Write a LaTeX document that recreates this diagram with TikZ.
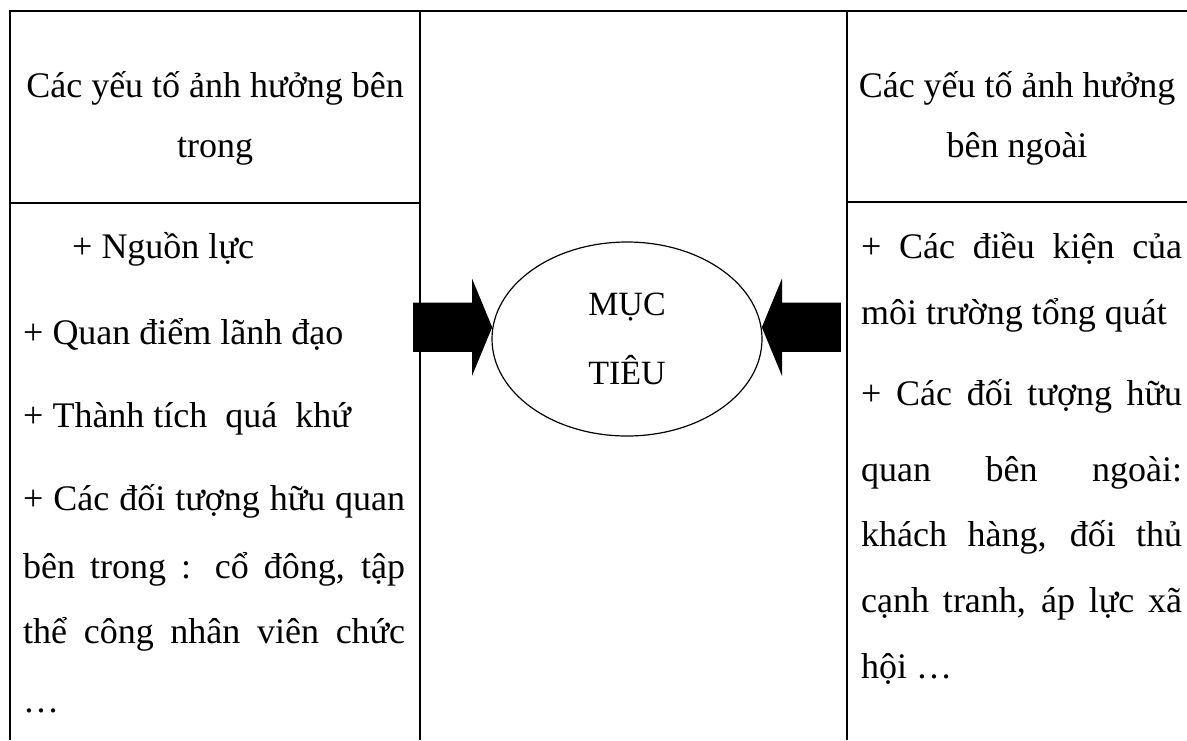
\documentclass[tikz,border=0pt]{standalone}
\usepackage{fontspec}
\setmainfont{Liberation Serif}
\usepackage{tikz}
\usetikzlibrary{shapes.geometric,shapes.arrows}
\newcommand{\headtext}[3] {\node at (#1) (#2) [anchor=base, inner sep=0pt] {#3};}
\newcommand{\celltext}[3] {\node at (#1) (#2) [anchor=base west, inner sep=0pt] {#3};}
\newcommand{\celljust}[4] {\node at (#1) (#2) [anchor=base west, inner sep=0pt] {\makebox[#3][s]{#4}};}
\newcommand{\pusharrow}[3] {\node at (#1) (#2) [single arrow, fill=black, inner xsep=0pt, inner ysep=24.5pt, minimum height=79pt, single arrow head extend=24pt, single arrow tip angle=135, shape border rotate=#3, anchor=tip] {};}

\begin{document}
\begin{tikzpicture}[x=1pt, y=-1pt, font=\fontsize{36}{43}\selectfont]
\useasboundingbox (0,0) rectangle (1187,740);

% table
\draw [line width=2pt] (10,740) -- (10,11) -- (1187,11);
\draw [line width=2pt] (420,11) -- (420,740);
\draw [line width=2pt] (847,11) -- (847,740);
\draw [line width=2pt] (10,203) -- (420,203);
\draw [line width=2pt] (847,202) -- (1187,202);

\headtext {215,97}{lhead1}{Các yếu tố ảnh hưởng bên};
\headtext {215,157}{lhead2}{trong};
\headtext {1017,97}{rhead1}{Các yếu tố ảnh hưởng};
\headtext {1017,157}{rhead2}{bên ngoài};

\celltext {72,258}{nguonluc}{+ Nguồn lực};
\celltext {23,344}{quandiem}{+ Quan điểm lãnh đạo};
\celltext {23,427}{thanhtich}{+ Thành tích~~quá~~khứ};
\celljust {23,510}{noibo1}{382pt}{+ Các đối tượng hữu quan};
\celljust {23,578}{noibo2}{382pt}{bên trong : cổ đông, tập};
\celljust {23,643}{noibo3}{382pt}{thể công nhân viên chức};
\celltext {23,712}{noibo4}{…};

\celljust {861,258}{dieukien1}{321pt}{+ Các điều kiện của};
\celltext {861,324}{dieukien2}{môi trường tổng quát};
\celljust {861,405}{benngoai1}{321pt}{+ Các đối tượng hữu};
\celljust {861,481}{benngoai2}{321pt}{quan bên ngoài:};
\celljust {861,546}{benngoai3}{321pt}{khách hàng, đối thủ};
\celljust {861,612}{benngoai4}{321pt}{cạnh tranh, áp lực xã};
\celltext {861,678}{benngoai5}{hội …};

% goal
\node at (627,339) (muctieu) [ellipse, draw, line width=1.2pt, minimum width=270pt, minimum height=194pt, inner sep=0pt, align=center, font=\fontsize{34}{69}\selectfont] {MỤC\\TIÊU};

\pusharrow {muctieu.175}{larrow}{0};
\pusharrow {muctieu.5}{rarrow}{180};

\end{tikzpicture}
\end{document}
